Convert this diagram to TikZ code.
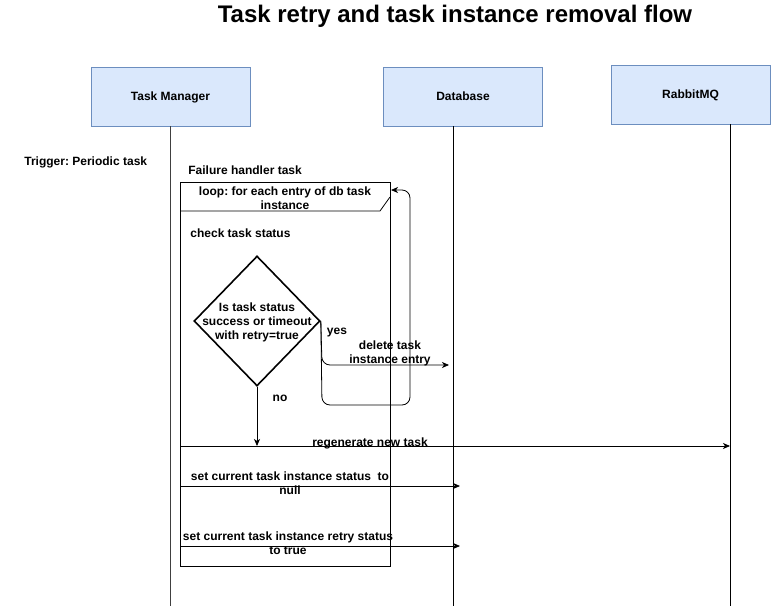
\documentclass[tikz,border=0pt]{standalone}
\usepackage{fontspec}
\setmainfont{Liberation Sans}
\usetikzlibrary{shapes.geometric, arrows.meta}
\definecolor{actorfill}{HTML}{DAE8FC}
\definecolor{actorline}{HTML}{6C8EBF}
\frenchspacing

\begin{document}
\begin{tikzpicture}[>={Stealth[length=7pt, width=6pt, inset=2pt]}, x=1pt, y=-1pt, line width=0.8pt,
    font=\bfseries\fontsize{12}{14}\selectfont]
    % styles
    \tikzstyle{actor}=[draw=actorline, fill=actorfill, minimum width=159pt, minimum height=59pt, inner sep=0pt, text depth=0pt, yshift=-1pt]
    \tikzstyle{lbl}=[align=center, inner sep=0pt, yshift=-1.5pt]
    \tikzstyle{decision}=[diamond, draw, line width=1.6pt, minimum width=126pt, minimum height=130pt, inner sep=0pt]

    \useasboundingbox (0,0) rectangle (771,608);

    % title
    \node[lbl, font=\bfseries\fontsize{24}{28}\selectfont] (title) at (455,15) {Task retry and task instance removal flow};

    % actors and lifelines
    \node[actor] (tm) at (170.5,95.5) {Task Manager};
    \node[actor] (db) at (463,95.5) {Database};
    \node[actor] (mq) at (690.5,93.5) {RabbitMQ};
    \coordinate (tmtop) at (170,126);
    \coordinate (tmend) at (170,606);
    \coordinate (dbtop) at (453,126);
    \coordinate (dbend) at (453,606);
    \coordinate (mqtop) at (730,124);
    \coordinate (mqend) at (730,606);
    \draw[black!75] (tmtop) -- (tmend);
    \draw (dbtop) -- (dbend);
    \draw (mqtop) -- (mqend);

    % side texts
    \node[lbl, anchor=west] (trig) at (24,161) {Trigger: Periodic task};
    \node[lbl, anchor=west] (fht) at (188,169) {Failure handler task};

    % loop frame
    \draw (180,182) rectangle (390,566);
    \draw (180,211) -- (380,211) -- (390,197);
    \node[lbl] (loop) at (285,197) {loop: for each entry of db task\\instance};
    \node[lbl, anchor=west] (chk) at (190,232) {check task status};

    % decision
    \node[decision] (dec) at (257,321) {};
    \node[lbl] (dectxt) at (dec) {Is task status\\success or timeout\\with retry=true};
    \node[lbl] (yes) at (337,331) {yes};
    \node[lbl] (no) at (280,397) {no};

    % yes: delete entry, then back to loop
    \coordinate (del) at (449,365);
    \coordinate (back) at (391,190);
    \draw[->, rounded corners=8pt] (dec.east) -- (322,365) -- (del);
    \draw[->, rounded corners=8pt] (dec.east) -- (322,405) -- (410,405) -- (410,190) -- (back);
    \node[lbl] (deltxt) at (390,352) {delete task\\instance entry};

    % no: regenerate and update status
    \coordinate (regen) at (257,446);
    \draw[->] (dec.south) -- (regen);
    \coordinate (m1) at (180,446);
    \coordinate (m1end) at (730,446);
    \draw[->] (m1) -- (m1end);
    \node[lbl] (m1txt) at (370,442) {regenerate new task};

    \coordinate (m2) at (180,486);
    \coordinate (m2end) at (460,486);
    \draw[->] (m2) -- (m2end);
    \node[lbl] (m2txt) at (290,481.5) {set current task instance status\ \ to\\null};

    \coordinate (m3) at (180,546);
    \coordinate (m3end) at (460,546);
    \draw[->] (m3) -- (m3end);
    \node[lbl] (m3txt) at (288,542) {set current task instance retry status\\to true};
\end{tikzpicture}
\end{document}
